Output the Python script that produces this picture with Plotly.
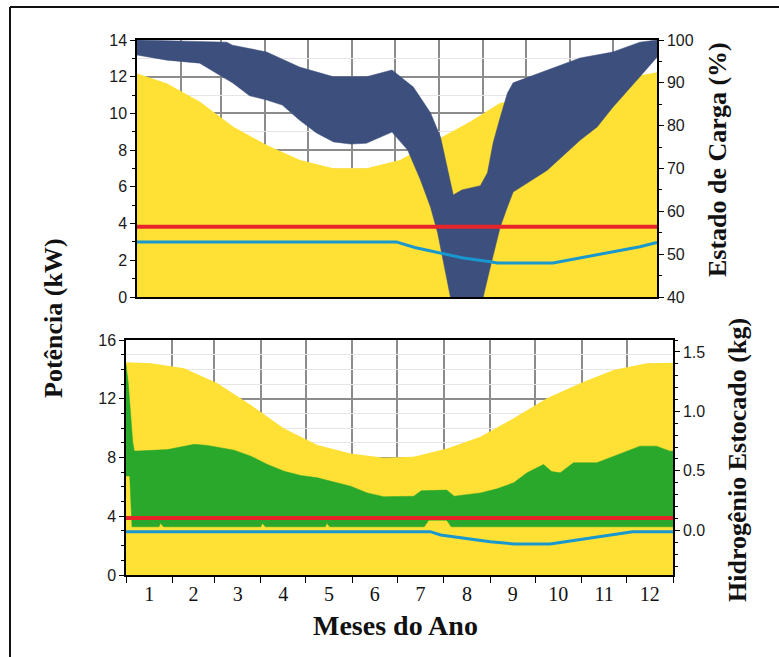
import plotly.graph_objects as go

# ---------------- data ----------------
month_edges = [0, 31, 59, 90, 120, 151, 181, 212, 243, 273, 304, 334, 365]
month_labels = [str(i) for i in range(1, 13)]
month_centers = [(a + b) / 2 for a, b in zip(month_edges[:-1], month_edges[1:])]

# Top panel: PV power (kW), battery state of charge band (%), thresholds (kW)
pv_top_day = [0, 20.8, 44.2, 67.6, 91, 114.4, 137.8, 161.2, 184.6, 212.7, 233.7, 254.8, 280, 300, 320, 340, 355, 365]
pv_top_kw = [12.18, 11.64, 10.64, 9.28, 8.28, 7.46, 7.01, 7.01, 7.46, 8.66, 9.55, 10.57, 10.9, 11.3, 11.6, 11.9, 12.1, 12.25]

soc_up_day = [0, 63, 67, 91, 114, 138, 161, 179, 194, 206, 213, 218, 222, 228, 241, 246, 250, 255, 260, 264, 288, 311, 334, 353, 365]
soc_up_pct = [100, 99.5, 98.8, 97.2, 93.7, 91.4, 91.4, 93, 89, 83, 77.4, 69.6, 63.8, 65, 66, 69, 76, 82, 87.6, 90, 93, 95.8, 97.2, 99.5, 100]
soc_lo_day = [0, 21, 44, 58, 67, 79, 91, 102, 114, 126, 138, 150, 161, 179, 190, 199, 206, 211, 215, 220, 243, 248, 255, 260, 264, 288, 311, 323, 334, 353, 365]
soc_lo_pct = [96.5, 95.3, 94.6, 91.8, 90, 87, 86, 84.8, 81.3, 78.3, 76.2, 75.7, 75.9, 78.5, 74.3, 67.3, 61, 55, 48.7, 40, 40, 47, 56.4, 61, 64.5, 69.6, 76.6, 79.7, 84.3, 91.4, 96]

load_top_day = [0, 182, 195, 213, 229, 248, 253, 292, 311, 334, 353, 365]
load_top_kw = [3.0, 3.0, 2.7, 2.4, 2.12, 1.92, 1.85, 1.85, 2.12, 2.47, 2.74, 2.97]
limit_top_kw = [3.83, 3.83]

# Bottom panel: PV power (kW), stored hydrogen band (kg), thresholds (kW)
pv_bot_day = [0, 16.7, 38.8, 61, 83.3, 105.5, 127.7, 149.9, 172, 192, 214.3, 236.5, 258.7, 280.9, 303.1, 325.3, 347.5, 365]
pv_bot_kw = [14.48, 14.41, 14.07, 13.05, 11.57, 9.98, 8.85, 8.28, 7.98, 8.05, 8.62, 9.42, 10.67, 12.03, 13.05, 13.96, 14.41, 14.45]

h2_up_day = [0, 1.5, 3, 4.5, 5.5, 7.8, 27.8, 45.5, 54.4, 72.1, 83.3, 94.4, 105.5, 116.6, 127.7, 138.8, 149.9, 161, 172, 192, 197, 214, 219, 236.5, 247.6, 258.7, 267.6, 278.6, 284, 289.8, 298.6, 314.2, 325.3, 343, 354, 363, 365]
h2_up_kg = [1.397, 1.236, 0.989, 0.741, 0.667, 0.667, 0.679, 0.723, 0.714, 0.674, 0.624, 0.554, 0.497, 0.461, 0.442, 0.404, 0.371, 0.315, 0.283, 0.287, 0.333, 0.339, 0.287, 0.315, 0.349, 0.400, 0.484, 0.554, 0.494, 0.484, 0.568, 0.568, 0.624, 0.708, 0.708, 0.666, 0.667]
h2_lo_day = [0, 2.5, 4, 22, 23, 25, 90, 91, 93, 133, 134, 136, 199, 202, 214, 217, 365]
h2_lo_kg = [0.456, 0.456, 0.03, 0.03, 0.06, 0.03, 0.03, 0.06, 0.03, 0.03, 0.06, 0.03, 0.03, 0.085, 0.085, 0.03, 0.03]

load_bot_day = [0, 203, 210, 225, 243, 259, 283, 301, 325, 338, 365]
load_bot_kw = [2.95, 2.95, 2.72, 2.5, 2.27, 2.11, 2.11, 2.38, 2.72, 2.95, 2.95]
limit_bot_kw = [3.88, 3.88]
line_day = [0, 365]

# ---------------- style ----------------
YELLOW = "#FFE035"
NAVY = "#3D4F7D"
GREEN = "#29A82B"
RED = "#E8242B"
BLUE = "#1898CF"
GRID_DARK = "#8C8C8C"
GRID_LIGHT = "#E6E6E6"
W, H = 779, 657

def px_x(v):
    return v / W

def px_y(v):
    return 1 - v / H

fig = go.Figure()

# top panel
fig.add_trace(go.Scatter(x=pv_top_day, y=pv_top_kw, mode="lines", fill="tozeroy",
                         fillcolor=YELLOW, line=dict(width=0, color=YELLOW),
                         xaxis="x", yaxis="y", hoverinfo="skip"))
fig.add_trace(go.Scatter(x=soc_up_day + soc_lo_day[::-1], y=soc_up_pct + soc_lo_pct[::-1],
                         mode="lines", fill="toself", fillcolor=NAVY,
                         line=dict(width=0.5, color=NAVY), xaxis="x", yaxis="y2", hoverinfo="skip"))
fig.add_trace(go.Scatter(x=line_day, y=limit_top_kw, mode="lines", line=dict(color=RED, width=4),
                         xaxis="x", yaxis="y5", hoverinfo="skip"))
fig.add_trace(go.Scatter(x=load_top_day, y=load_top_kw, mode="lines", line=dict(color=BLUE, width=3),
                         xaxis="x", yaxis="y5", hoverinfo="skip"))

# bottom panel
fig.add_trace(go.Scatter(x=pv_bot_day, y=pv_bot_kw, mode="lines", fill="tozeroy",
                         fillcolor=YELLOW, line=dict(width=0, color=YELLOW),
                         xaxis="x2", yaxis="y3", hoverinfo="skip"))
fig.add_trace(go.Scatter(x=h2_up_day + h2_lo_day[::-1], y=h2_up_kg + h2_lo_kg[::-1],
                         mode="lines", fill="toself", fillcolor=GREEN,
                         line=dict(width=0.5, color=GREEN), xaxis="x2", yaxis="y4", hoverinfo="skip"))
fig.add_trace(go.Scatter(x=line_day, y=limit_bot_kw, mode="lines", line=dict(color=RED, width=4),
                         xaxis="x2", yaxis="y6", hoverinfo="skip"))
fig.add_trace(go.Scatter(x=load_bot_day, y=load_bot_kw, mode="lines", line=dict(color=BLUE, width=3),
                         xaxis="x2", yaxis="y6", hoverinfo="skip"))

tick_font = dict(family="Liberation Sans, Arial, sans-serif", size=16, color="#1a1a1a")
axis_common = dict(showline=True, linecolor="black", linewidth=1.5, zeroline=False,
                   automargin=False, tickcolor="black", tickfont=tick_font)

top_dom_x = [px_x(137), px_x(657)]
top_dom_y = [px_y(297), px_y(40)]
bot_dom_x = [px_x(126), px_x(673)]
bot_dom_y = [px_y(575), px_y(340)]

fig.update_layout(
    width=W, height=H,
    margin=dict(l=0, r=0, t=0, b=0),
    paper_bgcolor="white", plot_bgcolor="white",
    showlegend=False,
    xaxis=dict(axis_common, domain=top_dom_x, range=[0, 365], anchor="y", mirror=True,
               tickmode="array", tickvals=[], showticklabels=False, ticks="", showgrid=False,
               minor=dict(tickmode="array", tickvals=month_edges[1:-1], showgrid=True,
                          gridcolor=GRID_DARK, gridwidth=1.5, ticks="")),
    yaxis=dict(axis_common, domain=top_dom_y, range=[0, 14], anchor="x",
               tickmode="array", tickvals=list(range(0, 15, 2)), ticks="outside", ticklen=5,
               showgrid=True, gridcolor=GRID_DARK, gridwidth=1.5,
               minor=dict(dtick=1, ticks="outside", ticklen=3, tickcolor="black",
                          showgrid=True, gridcolor=GRID_LIGHT, gridwidth=1)),
    yaxis2=dict(axis_common, overlaying="y", side="right", anchor="x", range=[40, 100],
                tickmode="array", tickvals=list(range(40, 101, 10)), ticks="outside", ticklen=5,
                showgrid=False,
                minor=dict(dtick=5, ticks="outside", ticklen=3, tickcolor="black", showgrid=False)),
    yaxis5=dict(overlaying="y", anchor="x", range=[0, 14], visible=False),
    xaxis2=dict(axis_common, domain=bot_dom_x, range=[0, 365], anchor="y3", mirror=True,
                tickmode="array", tickvals=month_centers, ticktext=month_labels, ticks="",
                showgrid=False,
                tickfont=dict(family="Liberation Serif, Times New Roman, serif", size=20, color="#111"),
                minor=dict(tickmode="array", tickvals=month_edges, ticks="outside", ticklen=6,
                           tickcolor="black", showgrid=True, gridcolor=GRID_DARK, gridwidth=1.5)),
    yaxis3=dict(axis_common, domain=bot_dom_y, range=[0, 16], anchor="x2",
                tickmode="array", tickvals=[0, 4, 8, 12, 16], ticks="outside", ticklen=5,
                showgrid=True, gridcolor=GRID_DARK, gridwidth=1.5,
                minor=dict(dtick=1, ticks="outside", ticklen=3, tickcolor="black",
                           showgrid=True, gridcolor=GRID_LIGHT, gridwidth=1)),
    yaxis4=dict(axis_common, overlaying="y3", side="right", anchor="x2", range=[-0.375, 1.6],
                tickmode="array", tickvals=[0, 0.5, 1.0, 1.5], ticktext=["0.0", "0.5", "1.0", "1.5"],
                ticks="outside", ticklen=5, showgrid=False,
                minor=dict(dtick=0.1, ticks="outside", ticklen=3, tickcolor="black", showgrid=False)),
    yaxis6=dict(overlaying="y3", anchor="x2", range=[0, 16], visible=False),
)

title_font = dict(family="Liberation Serif, Times New Roman, serif", size=26, color="#111")
fig.add_annotation(text="<b>Potência (kW)</b>", xref="paper", yref="paper",
                   x=px_x(53), y=px_y(318), textangle=-90, showarrow=False, font=title_font,
                   xanchor="center", yanchor="middle")
fig.add_annotation(text="<b>Estado de Carga (%)</b>", xref="paper", yref="paper",
                   x=px_x(717), y=px_y(160), textangle=-90, showarrow=False, font=title_font,
                   xanchor="center", yanchor="middle")
fig.add_annotation(text="<b>Hidrogênio Estocado (kg)</b>", xref="paper", yref="paper",
                   x=px_x(737), y=px_y(460), textangle=-90, showarrow=False, font=title_font,
                   xanchor="center", yanchor="middle")
fig.add_annotation(text="<b>Meses do Ano</b>", xref="paper", yref="paper",
                   x=px_x(395), y=px_y(625), showarrow=False,
                   font=dict(family="Liberation Serif, Times New Roman, serif", size=28, color="#111"),
                   xanchor="center", yanchor="middle")

# outer frame
fig.add_shape(type="line", xref="paper", yref="paper", x0=px_x(10), y0=px_y(7), x1=1, y1=px_y(7),
              line=dict(color="#111", width=2))
fig.add_shape(type="line", xref="paper", yref="paper", x0=px_x(10), y0=0, x1=px_x(10), y1=px_y(7),
              line=dict(color="#111", width=2))

fig.write_html("out.html")
